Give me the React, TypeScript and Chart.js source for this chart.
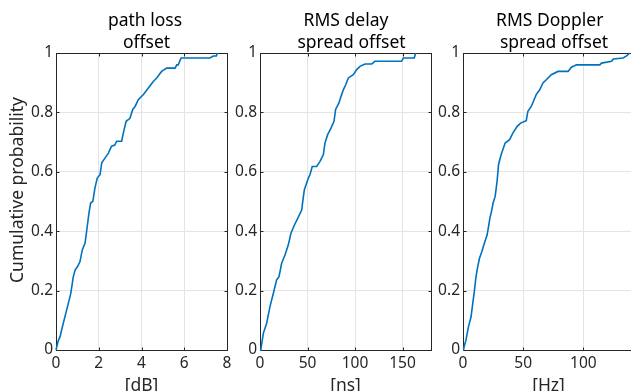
import React, { useEffect, useRef } from 'react';
import { Chart, registerables } from 'chart.js';

Chart.register(...registerables);

// ---- data ----
const pathLossX = [0, 0.03, 0.1, 0.19, 0.34, 0.5, 0.69, 0.81, 0.9, 1.0, 1.12, 1.23, 1.36, 1.44, 1.54, 1.62, 1.72, 1.75, 1.82, 1.93, 2.06, 2.14, 2.29, 2.45, 2.6, 2.75, 2.84, 3.07, 3.15, 3.28, 3.46, 3.59, 3.7, 3.85, 4.09, 4.32, 4.56, 4.71, 4.94, 5.18, 5.57, 5.65, 5.72, 5.85, 7.2, 7.36, 7.5, 7.55];
const pathLossP = [0, 0, 0.03, 0.045, 0.09, 0.135, 0.19, 0.247, 0.27, 0.28, 0.297, 0.337, 0.36, 0.404, 0.46, 0.495, 0.5, 0.512, 0.545, 0.579, 0.59, 0.63, 0.646, 0.663, 0.686, 0.69, 0.703, 0.703, 0.73, 0.77, 0.78, 0.81, 0.82, 0.843, 0.86, 0.882, 0.905, 0.916, 0.938, 0.949, 0.949, 0.96, 0.96, 0.983, 0.983, 0.99, 0.99, 1.0];

const delayX = [0, 1, 3.5, 7, 10.5, 14, 17.5, 20, 22.8, 26.3, 29.8, 32.6, 36.1, 39.7, 43.9, 45, 46.7, 50.9, 52.6, 55, 59.6, 63.2, 66.7, 68.4, 71.2, 74.7, 77.9, 79.6, 83.1, 85.3, 87.7, 90.2, 93, 98.2, 101.8, 105.3, 110.5, 117.6, 121, 149, 151, 162.4, 163.9];
const delayP = [0, 0.005, 0.056, 0.09, 0.146, 0.19, 0.236, 0.247, 0.292, 0.32, 0.354, 0.393, 0.42, 0.443, 0.471, 0.5, 0.54, 0.579, 0.59, 0.618, 0.618, 0.635, 0.658, 0.697, 0.725, 0.747, 0.77, 0.81, 0.832, 0.854, 0.876, 0.893, 0.916, 0.927, 0.944, 0.955, 0.963, 0.963, 0.972, 0.972, 0.983, 0.983, 1.0];

const dopplerX = [0, 0.6, 2.5, 4.5, 6.7, 8.1, 9.5, 10.8, 12.2, 13.7, 15.6, 17.8, 20, 21.2, 22.3, 23.9, 25, 26.7, 28.3, 29.5, 31.7, 35, 38.7, 41.4, 45, 47.8, 52.5, 53.9, 56.7, 60.8, 63.7, 66.4, 69.2, 73.3, 78.9, 87.3, 90, 94.2, 113.6, 115, 123.4, 124.8, 133, 135.8, 138.6];
const dopplerP = [0, 0.006, 0.034, 0.078, 0.112, 0.157, 0.2, 0.247, 0.28, 0.309, 0.331, 0.36, 0.387, 0.415, 0.443, 0.471, 0.495, 0.517, 0.568, 0.624, 0.658, 0.697, 0.708, 0.73, 0.753, 0.764, 0.772, 0.804, 0.82, 0.86, 0.876, 0.899, 0.91, 0.927, 0.938, 0.938, 0.952, 0.96, 0.96, 0.966, 0.972, 0.98, 0.983, 0.99, 1.0];

const yTickValues = [0, 0.2, 0.4, 0.6, 0.8, 1];
const pathLossTicks = [0, 2, 4, 6, 8];
const delayTicks = [0, 50, 100, 150];
const dopplerTicks = [0, 50, 100];

const pathLossTitle = ['path loss', 'offset'];
const delayTitle = ['RMS delay', 'spread offset'];
const dopplerTitle = ['RMS Doppler', 'spread offset'];
const yAxisLabel = 'Cumulative probability';

// ---- layout / style ----
const FONT = '"Noto Sans", "DejaVu Sans", sans-serif';
const AX = '#262626';
const GRID = '#e4e4e4';
const LINE = '#0072BD';
const CANVAS_H = 410;

const panels = [
  { xs: pathLossX, ps: pathLossP, ticks: pathLossTicks, max: 8, title: pathLossTitle, unit: '[dB]', left: 0, width: 245, yw: 56, padRight: 18, dx: [3.5, 5], yLabel: yAxisLabel },
  { xs: delayX, ps: delayP, ticks: delayTicks, max: 180, title: delayTitle, unit: '[ns]', left: 228, width: 220, yw: 32, padRight: 17, dx: [0.5, 6], yLabel: '' },
  { xs: dopplerX, ps: dopplerP, ticks: dopplerTicks, max: 142, title: dopplerTitle, unit: '[Hz]', left: 431, width: 220, yw: 32, padRight: 17, dx: [1.2, 5.5], yLabel: '' },
];

const boxPlugin = {
  id: 'boxPlugin',
  beforeDatasetsDraw(chart: any) {
    const { ctx, chartArea, scales } = chart;
    const { left, right, top, bottom } = chartArea;
    const L = Math.round(left) + 0.5, R = Math.round(right) + 0.5, T = Math.round(top) + 0.5, B = Math.round(bottom) + 0.5;
    ctx.save();
    ctx.strokeStyle = AX;
    ctx.lineWidth = 1;
    ctx.beginPath();
    scales.x.ticks.forEach((t: any) => {
      const px = Math.round(scales.x.getPixelForValue(t.value)) + 0.5;
      ctx.moveTo(px, B); ctx.lineTo(px, B - 3);
      ctx.moveTo(px, T); ctx.lineTo(px, T + 3);
    });
    scales.y.ticks.forEach((t: any) => {
      const py = Math.round(scales.y.getPixelForValue(t.value)) + 0.5;
      ctx.moveTo(L, py); ctx.lineTo(L + 3, py);
      ctx.moveTo(R, py); ctx.lineTo(R - 3, py);
    });
    ctx.stroke();
    ctx.strokeRect(L, T, R - L, B - T);
    ctx.restore();
  },
  afterDraw(chart: any, _args: any, opts: any) {
    const { ctx, chartArea } = chart;
    const cx = (chartArea.left + chartArea.right) / 2;
    ctx.save();
    ctx.fillStyle = '#000';
    ctx.font = `17.5px ${FONT}`;
    ctx.textAlign = 'center';
    ctx.textBaseline = 'alphabetic';
    const baselines = [26, 47.5];
    (opts.lines || []).forEach((line: string, i: number) => {
      ctx.fillText(line, cx + (opts.dx ? opts.dx[i] : 0), baselines[i]);
    });
    if (opts.yLabel) {
      ctx.fillStyle = AX;
      ctx.translate(18, 190);
      ctx.rotate(-Math.PI / 2);
      ctx.textBaseline = 'middle';
      ctx.fillText(opts.yLabel, 0, 0);
    }
    ctx.restore();
  },
};

export default function App() {
  const refs = [useRef<HTMLCanvasElement>(null), useRef<HTMLCanvasElement>(null), useRef<HTMLCanvasElement>(null)];

  useEffect(() => {
    const charts = panels.map((p, i) => {
      const canvas = refs[i].current!;
      const data = p.xs.map((x, j) => ({ x, y: p.ps[j] }));
      return new Chart(canvas, {
        type: 'line',
        data: {
          datasets: [{
            data,
            borderColor: LINE,
            borderWidth: 1.6,
            pointRadius: 0,
            tension: 0,
            fill: false,
            clip: false as any,
          }],
        },
        options: {
          animation: false,
          responsive: false,
          devicePixelRatio: 1,
          events: [],
          layout: { padding: { top: 53, left: 0, right: p.padRight, bottom: 0 } },
          plugins: {
            legend: { display: false },
            tooltip: { enabled: false },
            title: { display: false },
            boxPlugin: { lines: p.title, dx: p.dx, yLabel: p.yLabel },
          } as any,
          scales: {
            x: {
              type: 'linear',
              min: 0,
              max: p.max,
              afterBuildTicks: (s: any) => { s.ticks = p.ticks.map((v) => ({ value: v })); },
              afterFit: (s: any) => { s.height = CANVAS_H - 350; },
              ticks: { font: { family: FONT, size: 15.5 }, color: AX, padding: 4, maxRotation: 0, autoSkip: false },
              grid: { color: GRID, drawTicks: false, lineWidth: 1 },
              border: { display: false },
              title: { display: true, text: p.unit, color: AX, font: { family: FONT, size: 17.5 }, padding: { top: 0, bottom: 13 } },
            },
            y: {
              type: 'linear',
              min: 0,
              max: 1,
              afterBuildTicks: (s: any) => { s.ticks = yTickValues.map((v) => ({ value: v })); },
              afterFit: (s: any) => { s.width = p.yw; },
              ticks: { font: { family: FONT, size: 15.5 }, color: AX, padding: 3, callback: (v: any) => String(v) },
              grid: { color: GRID, drawTicks: false, lineWidth: 1 },
              border: { display: false },
              title: { display: false },
            },
          },
        },
        plugins: [boxPlugin],
      });
    });
    return () => charts.forEach((c) => c.destroy());
  }, []);

  return (
    <div style={{ position: 'fixed', left: 0, top: 0, width: 631, height: 391, overflow: 'hidden', background: '#fff' }}>
      {panels.map((p, i) => (
        <canvas
          key={i}
          ref={refs[i]}
          width={p.width}
          height={CANVAS_H}
          style={{ position: 'absolute', left: p.left, top: 0, width: p.width, height: CANVAS_H }}
        />
      ))}
    </div>
  );
}
